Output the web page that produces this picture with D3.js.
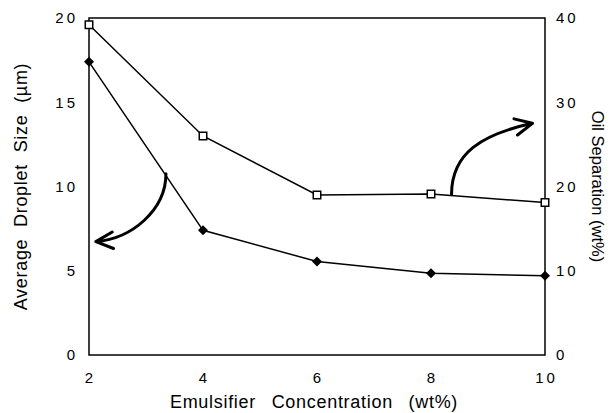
<!DOCTYPE html>
<html lang="en">
<head>
    <meta charset="utf-8">
    <title>Emulsifier concentration</title>
    <script src="https://cdn.jsdelivr.net/npm/d3@7"></script>
    <style>
        body { margin: 0; background: #fff; }
        svg { display: block; }
        .tick-label { font: 15px "Liberation Sans", Arial, sans-serif; letter-spacing: 3px; fill: #000; }
        .axis-title { font: 18px "Liberation Sans", Arial, sans-serif; fill: #000; }
        .frame { fill: none; stroke: #000; stroke-width: 1.5px; }
        .series { fill: none; stroke: #000; stroke-width: 1.5px; }
        .arrow { fill: none; stroke: #000; stroke-width: 3px; stroke-linecap: round; stroke-linejoin: round; }
    </style>
</head>
<body>
<script>

    // ************** Data ************************************
    var concentration = [2, 4, 6, 8, 10];                 // wt%
    var dropletSize   = [17.4, 7.4, 5.55, 4.85, 4.7];     // µm, left axis, filled diamonds
    var oilSeparation = [39.2, 26.0, 19.0, 19.1, 18.1];   // wt%, right axis, open squares

    var xTicks     = [2, 4, 6, 8, 10];
    var leftTicks  = [0, 5, 10, 15, 20];
    var rightTicks = [0, 10, 20, 30, 40];

    // curved annotation arrows, in data units: [start, ctrl1, ctrl2, tip]
    var leftArrow  = [[3.35, 10.75], [3.35, 8.6], [2.75, 6.9], [2.12, 6.73]];   // left axis
    var rightArrow = [[8.36, 19.05], [8.36, 24.0], [8.9, 26.2], [9.78, 27.5]];  // right axis

    var width = 613, height = 413;
    var margin = {top: 18, right: 68, bottom: 58, left: 89};
    var innerW = width - margin.left - margin.right,
        innerH = height - margin.top - margin.bottom;

    var svg = d3.select("body").append("svg")
            .attr("width", width)
            .attr("height", height);

    var g = svg.append("g")
            .attr("transform", "translate(" + margin.left + "," + margin.top + ")");

    var x = d3.scaleLinear().domain([2, 10]).range([0, innerW]);
    var yL = d3.scaleLinear().domain([0, 20]).range([innerH, 0]);
    var yR = d3.scaleLinear().domain([0, 40]).range([innerH, 0]);

    // frame box (no tick marks on this chart)
    g.append("rect")
            .attr("class", "frame")
            .attr("x", 0).attr("y", 0)
            .attr("width", innerW).attr("height", innerH);

    // tick labels
    g.selectAll("text.xt").data(xTicks).enter().append("text")
            .attr("class", "tick-label xt")
            .attr("x", function(d) { return x(d) + 1.5; })
            .attr("y", innerH + 28)
            .attr("text-anchor", "middle")
            .text(function(d) { return d; });

    g.selectAll("text.lt").data(leftTicks).enter().append("text")
            .attr("class", "tick-label lt")
            .attr("x", -11)
            .attr("y", function(d) { return yL(d); })
            .attr("dy", ".35em")
            .attr("text-anchor", "end")
            .text(function(d) { return d; });

    g.selectAll("text.rt").data(rightTicks).enter().append("text")
            .attr("class", "tick-label rt")
            .attr("x", innerW + 11)
            .attr("y", function(d) { return yR(d); })
            .attr("dy", ".35em")
            .attr("text-anchor", "start")
            .text(function(d) { return d; });

    // axis titles
    svg.append("text")
            .attr("class", "axis-title")
            .attr("transform", "translate(27," + (margin.top + innerH / 2) + ") rotate(-90)")
            .attr("text-anchor", "middle")
            .style("letter-spacing", "0.7px")
            .style("word-spacing", "6px")
            .text("Average Droplet Size (µm)");

    svg.append("text")
            .attr("class", "axis-title")
            .attr("transform", "translate(592," + (margin.top + innerH / 2) + ") rotate(90)")
            .attr("text-anchor", "middle")
            .style("font-size", "16.5px")
            .text("Oil Separation (wt%)");

    svg.append("text")
            .attr("class", "axis-title")
            .attr("x", margin.left + innerW / 2 - 3)
            .attr("y", height - 5)
            .attr("text-anchor", "middle")
            .style("letter-spacing", "0.7px")
            .style("word-spacing", "10px")
            .text("Emulsifier Concentration (wt%)");

    // series lines
    var pts = concentration.map(function(c, i) {
        return {c: c, d: dropletSize[i], o: oilSeparation[i]};
    });

    var lineL = d3.line().x(function(d) { return x(d.c); }).y(function(d) { return yL(d.d); });
    var lineR = d3.line().x(function(d) { return x(d.c); }).y(function(d) { return yR(d.o); });

    g.append("path").attr("class", "series").attr("d", lineR(pts));
    g.append("path").attr("class", "series").attr("d", lineL(pts));

    // markers
    g.selectAll("path.sq").data(pts).enter().append("path")
            .attr("class", "sq")
            .attr("d", d3.symbol().type(d3.symbolSquare).size(56))
            .attr("transform", function(d) { return "translate(" + x(d.c) + "," + yR(d.o) + ")"; })
            .style("fill", "#fff")
            .style("stroke", "#000")
            .style("stroke-width", 1.5);

    g.selectAll("path.dm").data(pts).enter().append("path")
            .attr("class", "dm")
            .attr("d", d3.symbol().type(d3.symbolSquare).size(50))
            .attr("transform", function(d) { return "translate(" + x(d.c) + "," + yL(d.d) + ") rotate(45)"; })
            .style("fill", "#000");

    // annotation arrows
    function drawArrow(p, yScale) {
        var q = p.map(function(d) { return [x(d[0]), yScale(d[1])]; });
        var path = d3.path();
        path.moveTo(q[0][0], q[0][1]);
        path.bezierCurveTo(q[1][0], q[1][1], q[2][0], q[2][1], q[3][0], q[3][1]);
        var tip = q[3],
            ang = Math.atan2(tip[1] - q[2][1], tip[0] - q[2][0]),
            len = 19, spread = 0.45;
        [ang + Math.PI - spread, ang + Math.PI + spread].forEach(function(a) {
            path.moveTo(tip[0] + len * Math.cos(a), tip[1] + len * Math.sin(a));
            path.lineTo(tip[0], tip[1]);
        });
        g.append("path").attr("class", "arrow").attr("d", path.toString());
    }

    drawArrow(leftArrow, yL);
    drawArrow(rightArrow, yR);

</script>
</body>
</html>
